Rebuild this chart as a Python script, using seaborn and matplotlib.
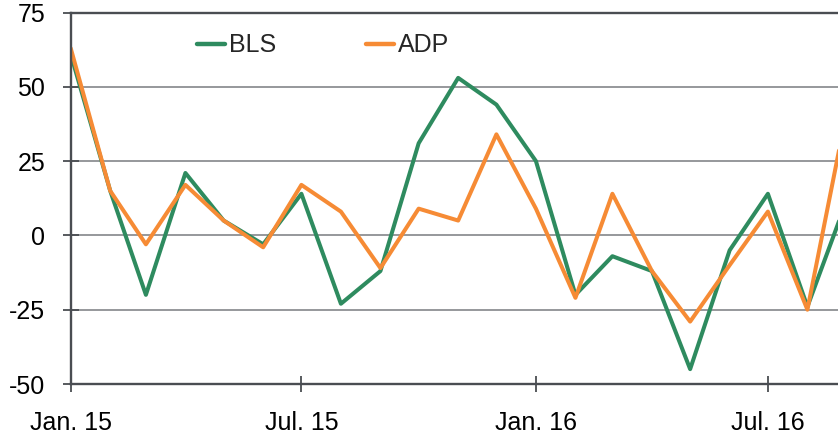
import matplotlib
matplotlib.use("Agg")
import matplotlib.pyplot as plt
import seaborn as sns
import pandas as pd
from matplotlib.lines import Line2D

months = pd.date_range("2015-01-01", "2016-09-01", freq="MS")
bls = [61, 15, -20, 21, 5, -3, 14, -23, -12, 31, 53, 44, 25, -20, -7, -12, -45, -5, 14, -24, 12]
adp = [63, 15, -3, 17, 5, -4, 17, 8, -11, 9, 5, 34, 9, -21, 14, -12, -29, -10, 8, -25, 42]
series_names = ["BLS", "ADP"]
colors = ["#2e8b5f", "#f68b35"]
tick_dates = ["2015-01-01", "2015-07-01", "2016-01-01", "2016-07-01"]
tick_labels = ["Jan. 15", "Jul. 15", "Jan. 16", "Jul. 16"]
y_ticks = [-50, -25, 0, 25, 50, 75]

df = pd.DataFrame({
    "date": list(months) * 2,
    "value": bls + adp,
    "series": ["BLS"] * len(bls) + ["ADP"] * len(adp),
})

sns.set_theme(style="white")
plt.rcParams["font.family"] = ["Liberation Sans", "DejaVu Sans"]
plt.rcParams["axes.unicode_minus"] = False

fig = plt.figure(figsize=(8.38, 4.42), dpi=100)
ax = fig.add_axes([70.7 / 838, 1 - 384 / 442, 1 - 70.7 / 838, (384 - 12.5) / 442])

sns.lineplot(data=df, x="date", y="value", hue="series", hue_order=series_names,
             palette=colors, linewidth=2.9, ax=ax, legend=False)

ax.set_ylim(-50, 75)
ax.set_yticks(y_ticks)
ax.set_yticklabels([str(v) for v in y_ticks])
ax.set_xlim(pd.Timestamp("2015-01-01"), pd.Timestamp("2016-08-25"))
ax.set_xticks([pd.Timestamp(d) for d in tick_dates])
ax.set_xticklabels(tick_labels)
ax.set_xlabel("")
ax.set_ylabel("")

ax.yaxis.grid(True, color="#8e9093", linewidth=1.3)
ax.xaxis.grid(False)
ax.set_axisbelow(True)

for side in ["left", "bottom", "top"]:
    ax.spines[side].set_visible(True)
    ax.spines[side].set_color("#4a4d52")
    ax.spines[side].set_linewidth(1.7)
ax.spines["right"].set_visible(False)

ax.tick_params(axis="both", which="major", direction="inout", length=11, width=1.3,
               color="#4a4d52", labelsize=18, labelcolor="black",
               bottom=True, left=True, top=False, right=False)
ax.tick_params(axis="y", pad=13)
ax.tick_params(axis="x", pad=14)

handles = [Line2D([0], [0], color=c, linewidth=3.2, solid_capstyle="round") for c in colors]
ax.legend(handles, series_names, loc="upper left", bbox_to_anchor=(0.152, 0.971), ncol=2,
          frameon=False, fontsize=18, handlelength=1.12, handletextpad=0.15,
          columnspacing=3.6, borderaxespad=0)

fig.savefig("out.png", dpi=100)
